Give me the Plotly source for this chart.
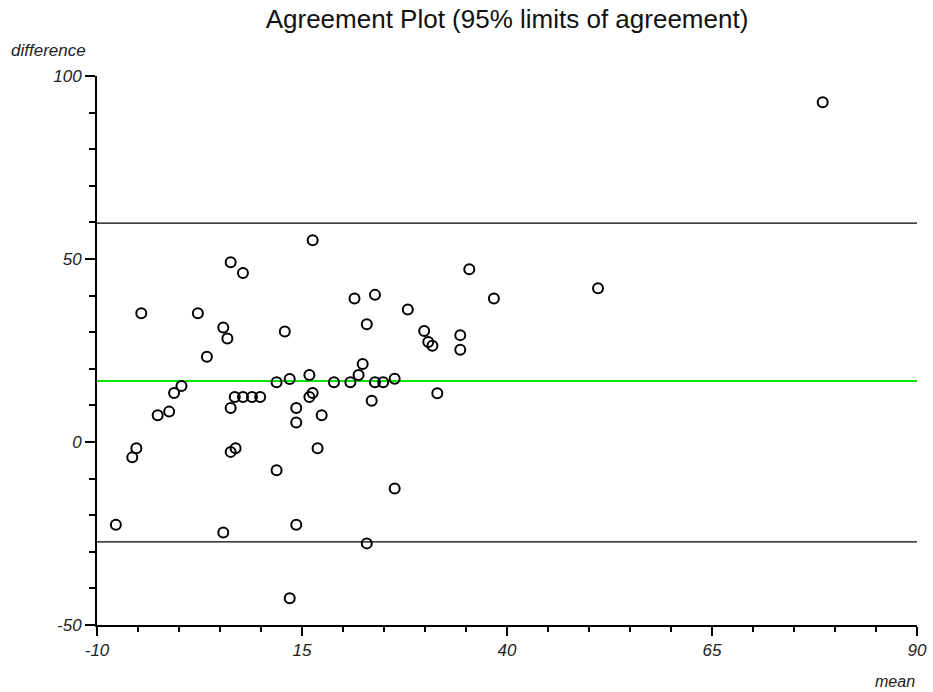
import plotly.graph_objects as go

mean_vals = [16.3, 6.3, 7.8, -4.6, 2.3, 5.4, 5.9, 3.4, 12.9, 21.4,
             23.9, 22.9, 22.4, 21.9, 15.9, 13.5, 11.9, 18.9, 20.9, 23.9,
             24.9, 0.3, -0.6, 6.8, 7.8, 8.9, 9.9, 15.9, 16.3, 23.5,
             -2.6, -1.2, 6.3, 14.3, 14.3, 17.4, -5.2, -5.7, 6.3, 6.9,
             16.9, 35.4, 38.4, 27.9, 29.9, 30.4, 30.9, 34.3, 34.3, 26.3,
             31.5, 11.9, 26.3, -7.7, 5.4, 14.3, 22.9, 13.5, 51.1, 78.5]
diff_vals = [55.1, 49.1, 46.2, 35.2, 35.2, 31.3, 28.3, 23.3, 30.2, 39.2,
             40.2, 32.2, 21.3, 18.3, 18.3, 17.2, 16.3, 16.3, 16.3, 16.3,
             16.3, 15.3, 13.4, 12.3, 12.3, 12.3, 12.3, 12.3, 13.4, 11.3,
             7.3, 8.3, 9.3, 9.3, 5.3, 7.3, -1.7, -4.2, -2.7, -1.7,
             -1.7, 47.2, 39.2, 36.2, 30.3, 27.3, 26.3, 29.2, 25.2, 17.3,
             13.3, -7.7, -12.7, -22.6, -24.7, -22.6, -27.7, -42.7, 42.0, 92.8]

mean_diff = 16.7
upper_loa = 59.8
lower_loa = -27.3
x_range = [-10, 90]
y_range = [-50, 100]
x_ticks = [-10, 15, 40, 65, 90]
x_tick_labels = ["-10", "15", "40", "65", "90"]
y_ticks = [-50, 0, 50, 100]
y_tick_labels = ["-50", "0", "50", "100"]

fig = go.Figure()
fig.add_trace(go.Scatter(x=x_range, y=[upper_loa, upper_loa], mode="lines",
                         line=dict(color="black", width=1.2), hoverinfo="skip"))
fig.add_trace(go.Scatter(x=x_range, y=[lower_loa, lower_loa], mode="lines",
                         line=dict(color="black", width=1.2), hoverinfo="skip"))
fig.add_trace(go.Scatter(x=x_range, y=[mean_diff, mean_diff], mode="lines",
                         line=dict(color="#00e600", width=2), hoverinfo="skip"))
fig.add_trace(go.Scatter(x=mean_vals, y=diff_vals, mode="markers",
                         marker=dict(symbol="circle-open", size=10, color="black",
                                     line=dict(width=2, color="black"))))

font_family = "Liberation Sans, Arial, sans-serif"
tickfont = dict(family=font_family, size=17, color="#222", style="italic")

fig.update_layout(
    width=933, height=692, autosize=False,
    margin=dict(l=97, r=16, t=76, b=67),
    paper_bgcolor="white", plot_bgcolor="white",
    showlegend=False,
    title=dict(text="Agreement Plot (95% limits of agreement)",
               font=dict(family=font_family, size=26, color="#111"),
               x=0.5, xref="paper", xanchor="center",
               y=1 - 19 / 692, yref="container", yanchor="middle"),
    xaxis=dict(range=x_range, tickvals=x_ticks, ticktext=x_tick_labels,
               automargin=False,
               showgrid=False, zeroline=False,
               showline=True, linecolor="black", linewidth=2,
               ticks="outside", ticklen=9, tickwidth=2, tickcolor="black",
               tickfont=tickfont,
               minor=dict(ticks="outside", ticklen=5, tickwidth=2, tickcolor="black", dtick=5,
                          showgrid=False)),
    yaxis=dict(range=y_range, tickvals=y_ticks, ticktext=y_tick_labels,
               automargin=False,
               showgrid=False, zeroline=False,
               showline=True, linecolor="black", linewidth=2,
               ticks="outside", ticklen=10, tickwidth=2, tickcolor="black",
               tickfont=tickfont,
               minor=dict(ticks="outside", ticklen=6, tickwidth=2, tickcolor="black", dtick=10,
                          showgrid=False)),
    annotations=[
        dict(text="difference", xref="paper", yref="paper", x=-88 / 820, y=1 + 26 / 549,
             xanchor="left", yanchor="middle", showarrow=False,
             font=dict(family=font_family, size=17, color="#222", style="italic")),
        dict(text="mean", xref="paper", yref="paper", x=1, y=-57 / 549,
             xanchor="right", yanchor="middle", showarrow=False,
             font=dict(family=font_family, size=16, color="#222", style="italic")),
    ],
)

fig.write_html("out.html",
               config={"responsive": False, "displayModeBar": False},
               post_script="document.body.style.margin='0';document.body.style.overflow='hidden';")
